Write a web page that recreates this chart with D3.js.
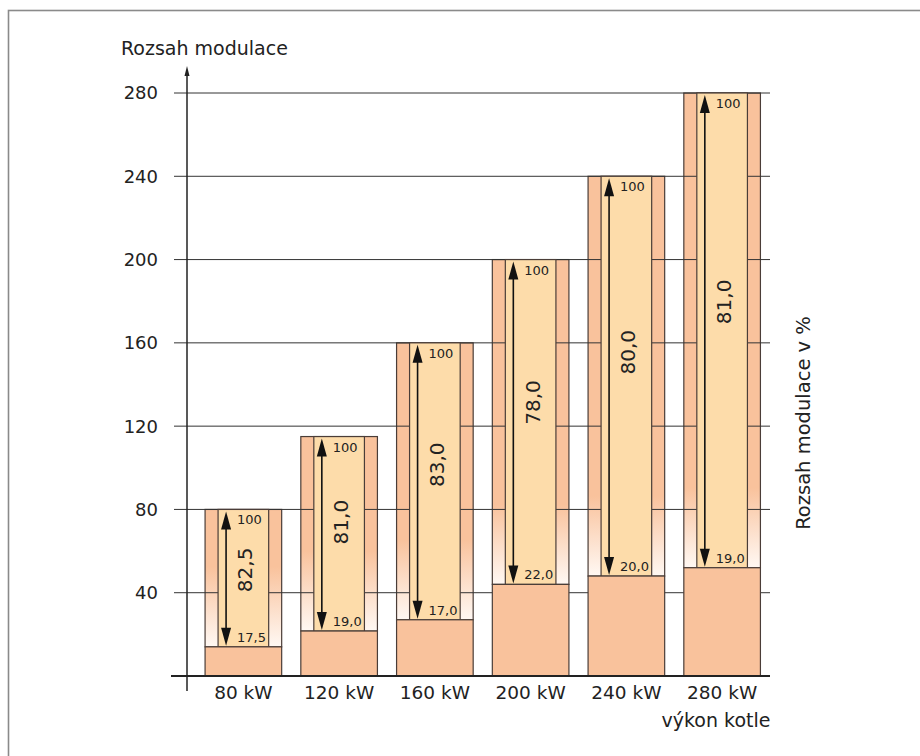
<!DOCTYPE html>
<html>
<head>
<meta charset="utf-8">
<script src="https://cdn.jsdelivr.net/npm/d3@7"></script>
<style>
  body { margin: 0; background: #fff; }
  svg text { font-family: "DejaVu Sans", sans-serif; fill: #222; }
</style>
</head>
<body>
<svg id="chart" width="920" height="756"></svg>
<script>
// Boiler output categories and modulation ranges
const categories = ['80 kW', '120 kW', '160 kW', '200 kW', '240 kW', '280 kW'];
const barTop = [80, 115, 160, 200, 240, 280];
const lowerLimit = [14, 21.6, 27, 44, 48, 52];
const minPercent = [17.5, 19.0, 17.0, 22.0, 20.0, 19.0];
const rangePercent = [82.5, 81.0, 83.0, 78.0, 80.0, 81.0];
const yTicks = [40, 80, 120, 160, 200, 240, 280];

const data = categories.map((c, i) => ({
  cat: c,
  max: barTop[i],
  min: lowerLimit[i],
  minPct: minPercent[i],
  range: rangePercent[i]
}));

const fmt = v => d3.format('.1f')(v).replace('.', ',');

const outerFill = '#f9c29c';
const innerFill = '#fddcaa';
const stroke = '#4a3d38';

const svg = d3.select('#chart');

// outer frame
svg.append('rect')
  .attr('x', 8.5).attr('y', 10.5)
  .attr('width', 940).attr('height', 780)
  .attr('fill', 'none')
  .attr('stroke', '#8a8a8a')
  .attr('stroke-width', 1.6);

const x = d3.scaleBand()
  .domain(categories)
  .range([195.5, 770])
  .paddingInner(0.2)
  .paddingOuter(0.1);

const y = d3.scaleLinear()
  .domain([0, 280])
  .range([676, 93]);

const axisX = 187;
const bw = x.bandwidth();
const side = 13;

// gradients for side strips: salmon fading to white at the lower limit
const defs = svg.append('defs');
data.forEach((d, i) => {
  const g = defs.append('linearGradient')
    .attr('id', 'fade' + i)
    .attr('gradientUnits', 'userSpaceOnUse')
    .attr('x1', 0).attr('x2', 0)
    .attr('y1', y(d.min) - 80).attr('y2', y(d.min));
  g.append('stop').attr('offset', 0).attr('stop-color', outerFill);
  g.append('stop').attr('offset', 1).attr('stop-color', '#fff8f3');
});

// outer bars (side strips)
svg.selectAll('.outer')
  .data(data)
  .join('rect')
    .attr('class', 'outer')
    .attr('x', d => x(d.cat))
    .attr('y', d => y(d.max))
    .attr('width', bw)
    .attr('height', d => y(d.min) - y(d.max))
    .attr('fill', (d, i) => `url(#fade${i})`)
    .attr('stroke', stroke)
    .attr('stroke-width', 1.2);

// gridlines and y ticks
svg.append('g')
  .selectAll('line')
  .data(yTicks)
  .join('line')
    .attr('x1', 174).attr('x2', 770)
    .attr('y1', d => y(d)).attr('y2', d => y(d))
    .attr('stroke', '#333')
    .attr('stroke-width', 1);

svg.append('g')
  .selectAll('text')
  .data(yTicks)
  .join('text')
    .attr('x', 158)
    .attr('y', d => y(d))
    .attr('dy', '0.36em')
    .attr('text-anchor', 'end')
    .style('font-size', '18px')
    .text(d => d);

// inner bars (modulation range)
svg.selectAll('.inner')
  .data(data)
  .join('rect')
    .attr('class', 'inner')
    .attr('x', d => x(d.cat) + side)
    .attr('y', d => y(d.max))
    .attr('width', bw - 2 * side)
    .attr('height', d => y(d.min) - y(d.max))
    .attr('fill', innerFill)
    .attr('stroke', stroke)
    .attr('stroke-width', 1.2);

// bottom blocks (below minimum output)
svg.selectAll('.base')
  .data(data)
  .join('rect')
    .attr('class', 'base')
    .attr('x', d => x(d.cat))
    .attr('y', d => y(d.min))
    .attr('width', bw)
    .attr('height', d => y(0) - y(d.min))
    .attr('fill', outerFill)
    .attr('stroke', stroke)
    .attr('stroke-width', 1.2);

// double arrows with labels
const arrows = svg.selectAll('.arrow')
  .data(data)
  .join('g')
    .attr('class', 'arrow')
    .attr('transform', d => `translate(${x(d.cat) + side + 8},0)`);

arrows.append('line')
  .attr('x1', 0).attr('x2', 0)
  .attr('y1', d => y(d.max) + 12)
  .attr('y2', d => y(d.min) - 12)
  .attr('stroke', '#111')
  .attr('stroke-width', 1.6);

arrows.append('path')
  .attr('d', d => `M0,${y(d.max) + 2} L-5,${y(d.max) + 20} L5,${y(d.max) + 20} Z`)
  .attr('fill', '#111');

arrows.append('path')
  .attr('d', d => `M0,${y(d.min) - 1} L-5,${y(d.min) - 19} L5,${y(d.min) - 19} Z`)
  .attr('fill', '#111');

arrows.append('text')
  .attr('x', 11)
  .attr('y', d => y(d.max) + 15)
  .style('font-size', '13px')
  .text('100');

arrows.append('text')
  .attr('x', 11)
  .attr('y', d => y(d.min) - 5)
  .style('font-size', '13px')
  .text(d => fmt(d.minPct));

arrows.append('text')
  .attr('transform', d => {
    const cy = y(d.max) + 0.44 * (y(d.min) - y(d.max));
    return `translate(19,${cy}) rotate(-90)`;
  })
  .attr('text-anchor', 'middle')
  .attr('dy', '0.36em')
  .style('font-size', '20px')
  .text(d => fmt(d.range));

// axes
svg.append('line')
  .attr('x1', 171).attr('x2', 770)
  .attr('y1', y(0)).attr('y2', y(0))
  .attr('stroke', '#222')
  .attr('stroke-width', 1.8);

svg.append('line')
  .attr('x1', axisX).attr('x2', axisX)
  .attr('y1', 691).attr('y2', 74)
  .attr('stroke', '#222')
  .attr('stroke-width', 1.5);

svg.append('path')
  .attr('d', `M${axisX},66 L${axisX - 2.5},76 L${axisX + 2.5},76 Z`)
  .attr('fill', '#222');

// category labels
svg.append('g')
  .selectAll('text')
  .data(categories)
  .join('text')
    .attr('x', d => x(d) + bw / 2)
    .attr('y', 699)
    .attr('text-anchor', 'middle')
    .style('font-size', '18.5px')
    .text(d => d);

// axis titles
svg.append('text')
  .attr('x', 121).attr('y', 55)
  .style('font-size', '19px')
  .text('Rozsah modulace');

svg.append('text')
  .attr('x', 716).attr('y', 727)
  .attr('text-anchor', 'middle')
  .style('font-size', '19px')
  .text('výkon kotle');

svg.append('text')
  .attr('transform', 'translate(803,423) rotate(-90)')
  .attr('text-anchor', 'middle')
  .attr('dy', '0.36em')
  .style('font-size', '19.5px')
  .text('Rozsah modulace v %');
</script>
</body>
</html>
